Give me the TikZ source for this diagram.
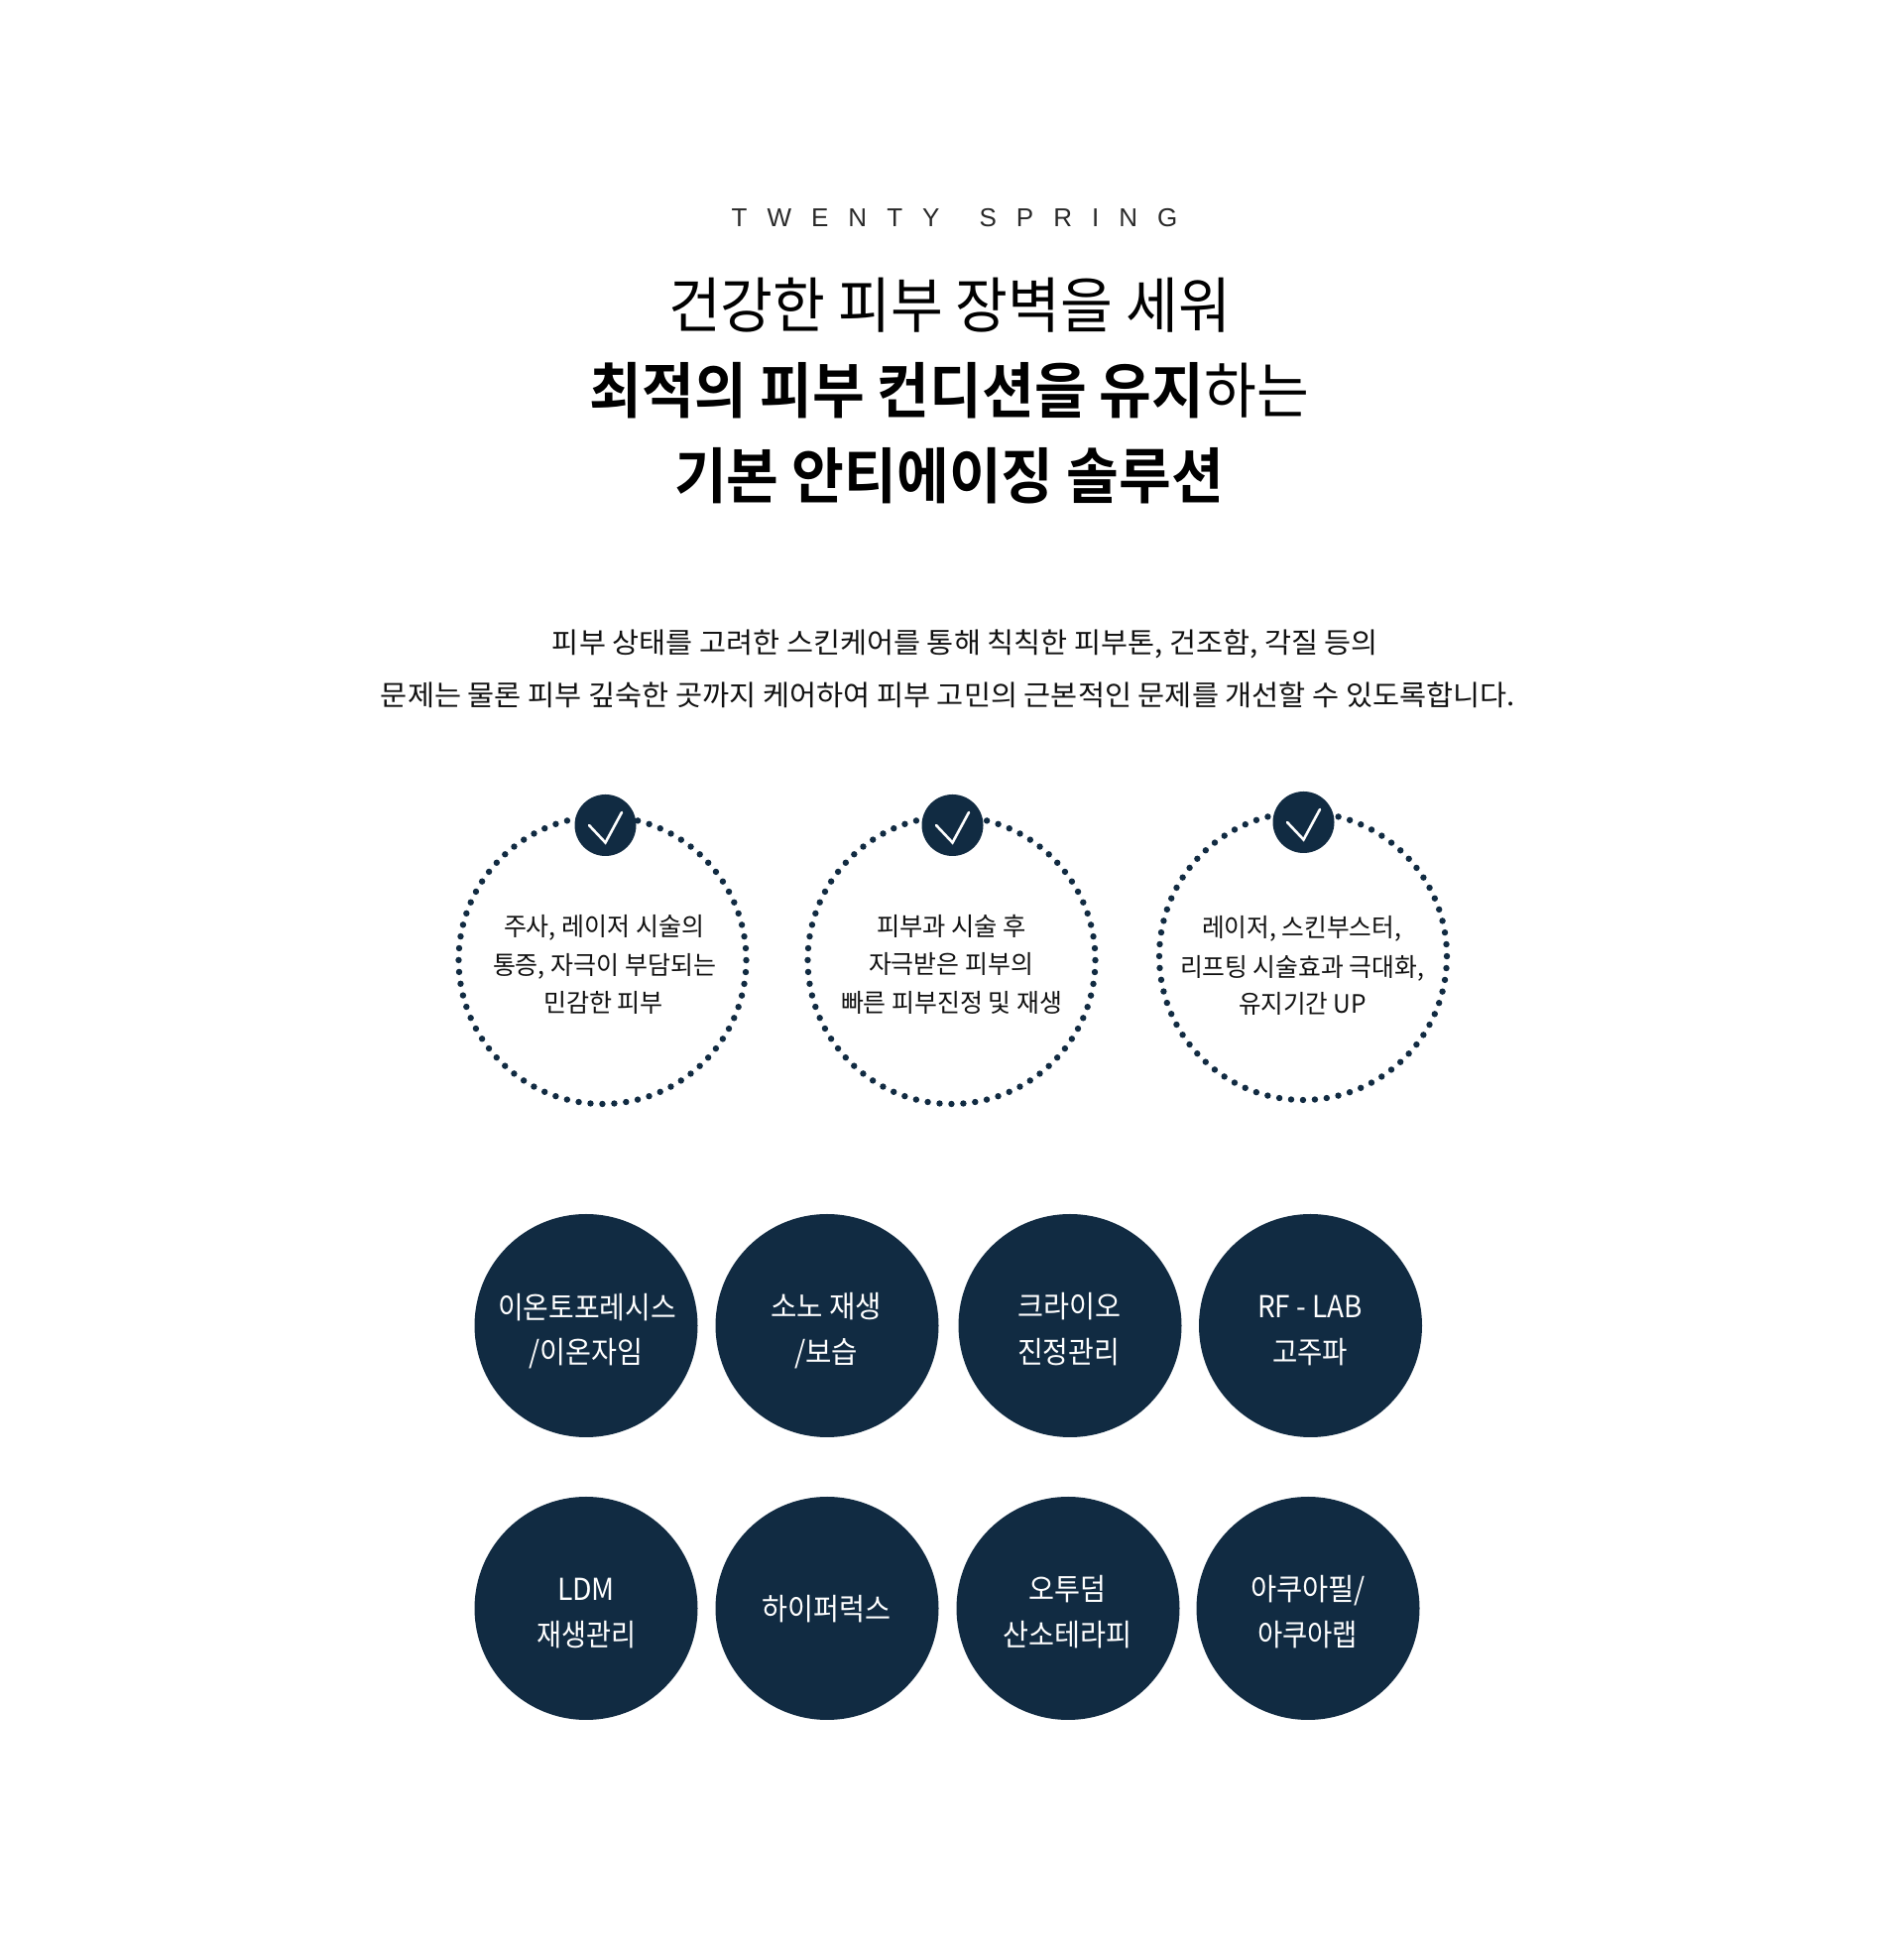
\documentclass[tikz,border=0pt]{standalone}
\usepackage{fontspec}
\usepackage{graphicx}
\setmainfont{Noto Sans CJK KR}[BoldFont={Noto Sans CJK KR Bold}]
\newfontfamily\latinlabel[LetterSpace=77]{Liberation Sans}
\definecolor{navy}{HTML}{112B42}
\definecolor{ink}{HTML}{111111}
\newcommand{\fitw}[2]{\resizebox{#1pt}{\height}{#2}}
\tikzset{
  x=1pt,y=1pt,
  txt/.style={inner sep=0pt,outer sep=0pt,text=ink,anchor=center},
  headline/.style={txt,text=black,font=\fontsize{61}{61}\selectfont},
  bodytext/.style={txt,font=\fontsize{28.5}{28.5}\selectfont},
  ringtext/.style={txt,font=\fontsize{25.5}{25.5}\selectfont},
  badgetext/.style={txt,text=white,font=\fontsize{30.5}{30.5}\selectfont},
  disc/.style={circle,fill=navy,minimum size=225pt,inner sep=0pt},
  tickdisc/.style={circle,fill=navy,minimum size=62pt,inner sep=0pt},
  ring/.style={draw=navy,line width=6.4pt,line cap=round,dash pattern=on 0pt off 11.988pt},
  checkmark/.style={draw=white,line width=2.6pt,line cap=round,line join=miter}
}
\begin{document}
\begin{tikzpicture}
\useasboundingbox[fill=white] (0,0) rectangle (1919,1972);
\node[txt,text=ink!90!white,font=\latinlabel\fontsize{26}{26}\selectfont] (brand) at (962.5,1752) {TWENTY\hspace{40pt}SPRING};
\node[headline] (t1) at (957.5,1664) {\fitw{567}{건강한 피부 장벽을 세워}};
\node[headline] (t2) at (957.5,1578) {\fitw{725}{\textbf{최적의 피부 컨디션을 유지}하는}};
\node[headline] (t3) at (957,1492) {\fitw{554}{\textbf{기본 안티에이징 솔루션}}};
\node[bodytext] (b1) at (973.5,1323) {\fitw{833}{피부 상태를 고려한 스킨케어를 통해 칙칙한 피부톤, 건조함, 각질 등의}};
\node[bodytext] (b2) at (956,1271) {\fitw{1144}{문제는 물론 피부 깊숙한 곳까지 케어하여 피부 고민의 근본적인 문제를 개선할 수 있도록합니다.}};
\draw[ring] (607.5,1004) circle[radius=145];
\draw[ring] (959.5,1004) circle[radius=145];
\draw[ring] (1314,1008) circle[radius=145];
\node[tickdisc] (k1) at (610.5,1140) {};
\node[tickdisc] (k2) at (960.5,1140) {};
\node[tickdisc] (k3) at (1314.5,1143) {};
\draw[checkmark] ([shift={(-16.5,0)}]k1.center) -- ([shift={(0,-17.5)}]k1.center) -- ([shift={(16.5,13)}]k1.center);
\draw[checkmark] ([shift={(-16.5,0)}]k2.center) -- ([shift={(0,-17.5)}]k2.center) -- ([shift={(16.5,13)}]k2.center);
\draw[checkmark] ([shift={(-16.5,0)}]k3.center) -- ([shift={(0,-17.5)}]k3.center) -- ([shift={(16.5,13)}]k3.center);
\node[ringtext] (a1) at (609,1036.5) {\fitw{202}{주사, 레이저 시술의}};
\node[ringtext] (a2) at (609.5,998) {\fitw{225}{통증, 자극이 부담되는}};
\node[ringtext] (a3) at (608.5,961) {\fitw{121}{민감한 피부}};
\node[ringtext] (c1) at (959.5,1038) {\fitw{151}{피부과 시술 후}};
\node[ringtext] (c2) at (959,1000) {\fitw{166}{자극받은 피부의}};
\node[ringtext] (c3) at (959.5,961) {\fitw{223}{빠른 피부진정 및 재생}};
\node[ringtext] (d1) at (1312.5,1035.5) {\fitw{201}{레이저, 스킨부스터,}};
\node[ringtext] (d2) at (1313,995.5) {\fitw{246}{리프팅 시술효과 극대화,}};
\node[ringtext] (d3) at (1313.5,960) {\fitw{129}{유지기간 UP}};
\node[disc] (p1) at (591,635.5) {};
\node[disc] (p2) at (834,635.5) {};
\node[disc] (p3) at (1079,635.5) {};
\node[disc] (p4) at (1321.5,635.5) {};
\node[disc] (q1) at (591,350.5) {};
\node[disc] (q2) at (834,350.5) {};
\node[disc] (q3) at (1077,350.5) {};
\node[disc] (q4) at (1319,350.5) {};
\node[badgetext] (p1a) at (592,653.5) {\fitw{180}{이온토포레시스}};
\node[badgetext] (p1b) at (590.5,607) {\fitw{115}{/이온자임}};
\node[badgetext] (p2a) at (833,654.5) {\fitw{112}{소노 재생}};
\node[badgetext] (p2b) at (833,607.5) {\fitw{64}{/보습}};
\node[badgetext] (p3a) at (1078,654.5) {\fitw{104}{크라이오}};
\node[badgetext] (p3b) at (1077.5,609) {\fitw{103}{진정관리}};
\node[badgetext] (p4a) at (1321,654.5) {\fitw{106}{RF - LAB}};
\node[badgetext] (p4b) at (1321,609) {\fitw{76}{고주파}};
\node[badgetext] (q1a) at (591,370) {\fitw{58}{LDM}};
\node[badgetext] (q1b) at (591,324) {\fitw{100}{재생관리}};
\node[badgetext] (q2a) at (833,350) {\fitw{130}{하이퍼럭스}};
\node[badgetext] (q3a) at (1076,370) {\fitw{78}{오투덤}};
\node[badgetext] (q3b) at (1076,324) {\fitw{130}{산소테라피}};
\node[badgetext] (q4a) at (1319,368.5) {\fitw{116}{아쿠아필/}};
\node[badgetext] (q4b) at (1318.5,324) {\fitw{101}{아쿠아랩}};
\end{tikzpicture}
\end{document}
